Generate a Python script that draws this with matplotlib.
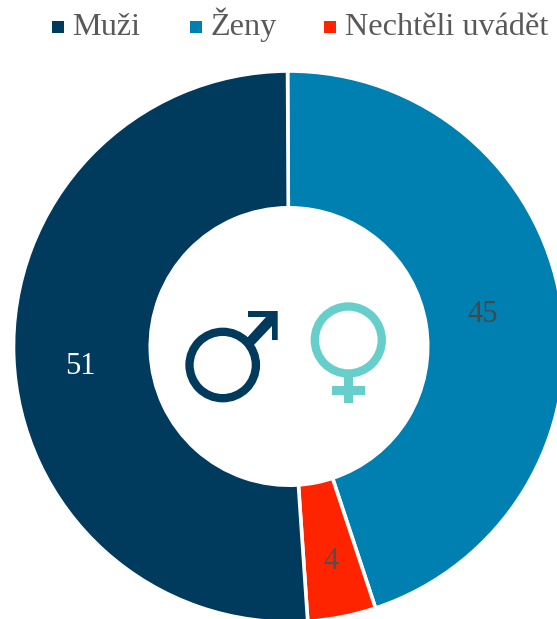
import matplotlib
matplotlib.use("Agg")
import matplotlib.pyplot as plt
from matplotlib.patches import Circle, Rectangle, Polygon

categories = ["Ženy", "Nechtěli uvádět", "Muži"]
values = [45, 4, 51]
colors = ["#0080B0", "#FF2400", "#003A5D"]
label_colors = ["#474747", "#505050", "#FFFFFF"]
legend_order = ["Muži", "Ženy", "Nechtěli uvádět"]

W, H = 557, 619
plt.rcParams['font.family'] = ['Liberation Serif', 'DejaVu Serif']
fig = plt.figure(figsize=(W/100, H/100), dpi=100)
ax = fig.add_axes([0, 0, 1, 1])
def Y(py):
    return H - py

cx, cy, R, r = 289, Y(346.5), 275.5, 138.7
ax.pie(values, startangle=90.3, counterclock=False, colors=colors, radius=R, center=(cx, cy),
       wedgeprops=dict(width=R-r, edgecolor='white', linewidth=2.6), frame=False)
ax.set_xlim(0, W); ax.set_ylim(0, H); ax.set_aspect('equal'); ax.axis('off')

# data labels
label_pos = [(483, 314.5), (331, 561.5), (80, 366.5)]
for v, c, (x, y) in zip(values, label_colors, label_pos):
    ax.text(x, Y(y), str(v), color=c, fontsize=22, ha='center', va='center')

# legend
legend_colors = {"Muži": "#003A5D", "Ženy": "#0080B0", "Nechtěli uvádět": "#FF2400"}
swatch_x = [52, 189.5, 324]
text_x = [72.5, 211, 345]
for name, sx, tx in zip(legend_order, swatch_x, text_x):
    ax.add_patch(Rectangle((sx, Y(32.7)), 12, 12, facecolor=legend_colors[name], edgecolor='none'))
    ax.text(tx, Y(35), name, color="#595959", fontsize=23.2, ha='left', va='baseline')

# male symbol
male, female = "#003A5D", "#66CFCB"
ax.add_patch(Circle((222.7, Y(365)), 33.2, facecolor='none', edgecolor=male, linewidth=6))
ax.add_patch(Polygon([(246, Y(339)), (253, Y(346)), (272, Y(326)), (272, Y(340)), (277.7, Y(340)),
                      (277.7, Y(311)), (248, Y(311)), (248, Y(317)), (266, Y(317))],
                     closed=True, facecolor=male, edgecolor='none'))
# female symbol
ax.add_patch(Circle((348.3, Y(340)), 33.5, facecolor='none', edgecolor=female, linewidth=6))
ax.add_patch(Rectangle((344.3, Y(402.7)), 8.4, 26.5, facecolor=female, edgecolor='none'))
ax.add_patch(Rectangle((331.7, Y(394.7)), 33.3, 8.7, facecolor=female, edgecolor='none'))

fig.savefig("out.png", dpi=100)
